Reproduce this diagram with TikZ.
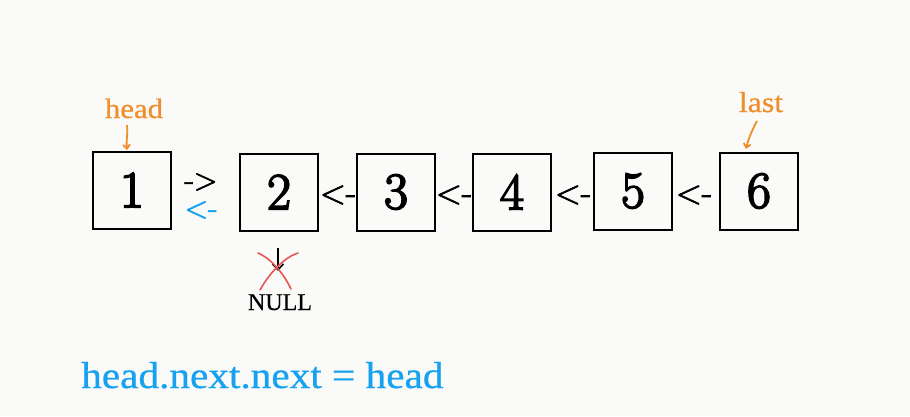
\documentclass[tikz,border=0pt]{standalone}
\usepackage{fontspec}
\usetikzlibrary{arrows.meta,calc}
\newfontfamily\lmb{Latin Modern Roman}[FakeBold=3.4]
\newfontfamily\lma{Latin Modern Roman}[FakeBold=2.2]
\newfontfamily\lib{Liberation Serif}[FakeStretch=1.1,FakeBold=0.6]
\newfontfamily\libn{Liberation Serif}[FakeBold=0.4]
\definecolor{bgc}{RGB}{250,250,248}
\definecolor{orng}{RGB}{240,142,44}
\definecolor{blu}{RGB}{22,162,240}
\definecolor{rd}{RGB}{232,86,86}
\begin{document}
\begin{tikzpicture}[x=1pt,y=-1pt,
  box/.style={draw,line width=2pt,minimum width=78pt,minimum height=77pt,inner sep=0pt,font=\lmb\fontsize{52}{60}\selectfont},
  lbl/.style={inner sep=0pt,font=\lma\fontsize{34}{36}\selectfont},
  small/.style={inner sep=0pt,font=\lma\fontsize{31}{32}\selectfont},
  ptr/.style={inner sep=0pt,text=orng},
  parr/.style={draw=orng,line width=1.8pt,-{Straight Barb[length=4pt,width=7pt]}},
]
\fill[bgc] (0,0) rectangle (910,416);
\node[box] (n1) at (132,190) {1};
\node[box] (n2) at (279,192) {2};
\node[box] (n3) at (396,192) {3};
\node[box] (n4) at (512,192) {4};
\node[box] (n5) at (633,191) {5};
\node[box] (n6) at (759,191) {6};
% arrows as text
\node[small] (f12) at (201,182) {->};
\node[small,text=blu] (b12) at (201,210) {<-};
\node[lbl] (a23) at (338,195) {<-};
\node[lbl] (a34) at (454,195) {<-};
\node[lbl] (a45) at (573,195) {<-};
\node[lbl] (a56) at (694,195) {<-};
% pointers
\node[ptr,anchor=base,font=\lib\fontsize{28}{30}\selectfont] (head) at (134,118) {head};
\node[ptr,anchor=base,font=\lib\fontsize{29}{30}\selectfont] (last) at (761,112) {last};
\coordinate (h1) at (127,125);
\coordinate (h2) at (127,150);
\draw[parr] (h1) .. controls (128,135) and (126,140) .. (h2);
\coordinate (l1) at (757,121);
\coordinate (l2) at (746,149);
\draw[parr] (l1) .. controls (752,130) and (748,140) .. (l2);
% NULL
\node[inner sep=0pt,anchor=base,font=\libn\fontsize{24}{26}\selectfont] (null) at (280,310) {NULL};
\coordinate (d1) at (278,248);
\coordinate (d2) at (278,271);
\draw[line width=1.6pt,-{Straight Barb[length=6pt,width=11pt]}] (d1) -- (d2);
\coordinate (x1) at (258,253);
\coordinate (x2) at (291,289);
\coordinate (x3) at (298,253);
\coordinate (x4) at (260,290);
\draw[rd,line width=1.6pt,line cap=round] (x1) .. controls (270,258) and (283,272) .. (x2);
\draw[rd,line width=1.6pt,line cap=round] (x3) .. controls (285,257) and (270,272) .. (x4);
% code
\node[inner sep=0pt,anchor=base west,text=blu,font=\lib\fontsize{37.5}{40}\selectfont] (code) at (81,388) {head.next.next = head};
\end{tikzpicture}
\end{document}
